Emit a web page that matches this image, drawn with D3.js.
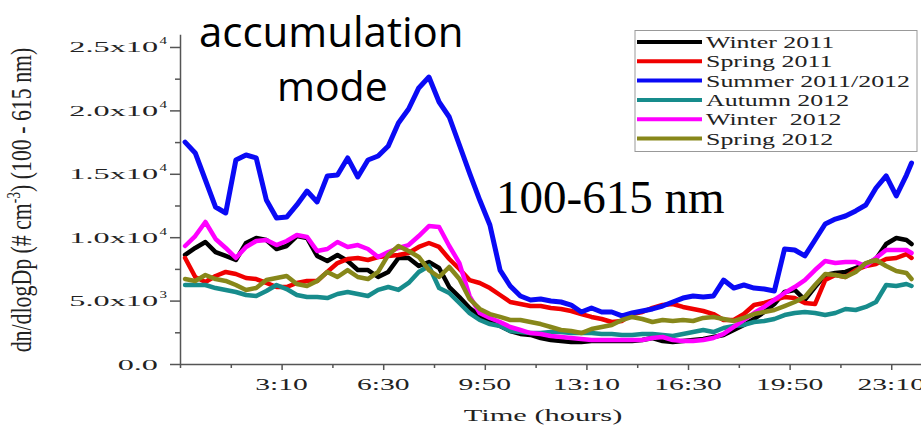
<!DOCTYPE html>
<html><head><meta charset="utf-8">
<script src="https://cdn.jsdelivr.net/npm/d3@7"></script>
<style>body{margin:0;background:#fff}svg{display:block}</style>
</head><body>
<svg id="c" width="921" height="426"></svg>
<script>
// time of day in minutes (20-min readings, last at 23:50)
const times = d3.range(0, 1440, 20).concat([1430]);

const seriesNames = ["Winter 2011", "Spring 2011", "Summer 2011/2012", "Autumn 2012", "Winter  2012", "Spring 2012"];
const seriesColors = ["#000000", "#f00000", "#0a0af5", "#178c8c", "#ff00ff", "#87871a"];

const winter2011 = [8600,9150,9620,8830,8520,8200,9540,9940,9780,9070,
  9305,10090,9940,8520,8120,8600,8120,7410,7410,6860,
  7260,8360,8360,7730,8040,7570,6070,5280,4420,3790,
  3310,3000,2600,2370,2290,2050,1890,1810,1730,1730,
  1810,1810,1810,1810,1810,1890,2050,1810,1730,1810,
  1890,1970,2130,2290,2680,3080,3550,4100,4730,5680,
  5840,5050,6070,7020,7180,7260,7570,7890,8280,9460,
  9940,9780,9460];
const spring2011 = [8360,6860,6470,6940,7260,7100,6780,6700,6390,6070,
  6070,6390,6550,6550,7260,7960,8280,8360,8200,8440,
  8520,8600,8750,9230,9540,9230,8280,7490,6620,6390,
  5990,5440,4890,4730,4570,4570,4420,4340,4180,3940,
  3710,3550,3310,3390,3940,4100,4420,4650,4730,4500,
  4340,4180,3940,3470,3470,3940,4650,4810,5050,5280,
  5200,4810,4730,6620,7020,6860,7410,7730,7890,8280,
  8360,8670,8360];
const summer2011_2012 = [17500,16640,14510,12380,11910,16090,16480,16250,12930,11510,
  11590,12540,13640,12780,14830,14900,16250,14750,16090,16400,
  17190,19010,20110,21770,22630,20660,19480,17270,15060,12930,
  10960,7410,6150,5360,5050,5130,4970,4890,4650,4100,
  4420,4100,4100,3790,4020,4180,4340,4570,4890,5200,
  5360,5280,5360,6620,5990,6230,5990,5910,5760,9070,
  8990,8520,9780,11040,11430,11670,12070,12540,13880,14830,
  13250,14900,15850];
const autumn2012 = [6230,6230,6230,5990,5840,5680,5440,5360,5760,6230,
  5910,5440,5280,5280,5200,5520,5680,5520,5360,5840,
  6070,5840,6390,7260,7730,5990,5600,4810,4020,3470,
  3150,3000,2600,2520,2440,2440,2520,2520,2440,2440,
  2440,2370,2370,2290,2290,2370,2370,2290,2210,2370,
  2520,2680,2520,2840,3000,3080,3310,3390,3550,3860,
  4020,4100,4020,3860,4020,4340,4260,4500,4890,6230,
  6150,6310,6150];
const winter2012 = [9305,10090,11200,9860,9150,8360,9230,9700,9780,9380,
  9700,10170,10020,8910,9070,9620,9230,9380,9070,8440,
  8830,9150,9380,10090,10880,10800,9305,7960,5360,4020,
  3630,3310,2920,2680,2440,2370,2210,2130,2050,1970,
  1890,1890,1890,1890,1890,1890,2050,2130,1890,1810,
  1810,1890,2050,2370,2920,3470,4020,4500,5050,5600,
  6070,6620,7410,8120,7960,8040,8040,7730,8360,8990,
  8990,8990,8750];
const spring2012 = [6700,6550,7020,6700,6550,6230,5840,5990,6620,6780,
  6940,6310,6150,6550,7260,6860,7410,6860,6700,7260,
  8600,9305,8910,8440,7410,6860,7650,6700,5130,4340,
  3940,3710,3470,3470,3310,3150,2920,2680,2600,2440,
  2760,2920,3080,3470,3710,3550,3310,3470,3390,3470,
  3390,3630,3710,3550,3390,3630,3940,4100,4260,4570,
  4890,5280,6230,7100,7020,6860,7260,7960,8200,7730,
  7330,7180,6700];

const yMajor = [0, 5000, 10000, 15000, 20000, 25000];
const yMinor = [2500, 7500, 12500, 17500, 22500];
const yMantissa = ["0.0", "5.0x10", "1.0x10", "1.5x10", "2.0x10", "2.5x10"];
const yExponent = ["", "3", "4", "4", "4", "4"];
const xMajor = [190, 390, 590, 790, 990, 1190, 1390];
const xLabels = ["3:10", "6:30", "9:50", "13:10", "16:30", "19:50", "23:10"];
const xMinor = [-10, 90, 290, 490, 690, 890, 1090, 1290];

const allSeries = [winter2011, spring2011, summer2011_2012, autumn2012, winter2012, spring2012];

const svg = d3.select("#c");
const serif = "'Liberation Serif','Times New Roman',serif";
const x = d3.scaleLinear().domain([-10, 1450]).range([180, 921.7]);
const y = d3.scaleLinear().domain([0, 26000]).range([364, 34.3]);
const axisColor = "#555";

// axes
const gx = svg.append("g").attr("transform", "translate(0,364)");
gx.call(d3.axisBottom(x).tickValues(xMajor).tickSize(6).tickSizeOuter(0).tickFormat(""));
const gxm = svg.append("g").attr("transform", "translate(0,364)");
gxm.call(d3.axisBottom(x).tickValues(xMinor).tickSize(4).tickSizeOuter(0).tickFormat(""));
gxm.select(".domain").remove();
const gy = svg.append("g").attr("transform", "translate(180,0)");
gy.call(d3.axisLeft(y).tickValues(yMajor).tickSize(10).tickSizeOuter(0).tickFormat(""));
const gym = svg.append("g").attr("transform", "translate(180,0)");
gym.call(d3.axisLeft(y).tickValues(yMinor).tickSize(5).tickSizeOuter(0).tickFormat(""));
gym.select(".domain").remove();
svg.selectAll(".domain, .tick line").attr("stroke", axisColor).attr("stroke-width", 1.5);

// y tick labels
yMajor.forEach((v, i) => {
  const yy = y(v) + 5.5;
  svg.append("text").attr("transform", `translate(158,${yy}) scale(2.15,1)`)
    .attr("text-anchor", "end").attr("font-family", serif).attr("font-size", 15)
    .attr("fill", "#222").text(yMantissa[i]);
  if (yExponent[i]) {
    svg.append("text").attr("transform", `translate(159.5,${yy - 8}) scale(1.5,1)`)
      .attr("font-family", serif).attr("font-size", 10).attr("fill", "#222").text(yExponent[i]);
  }
});
// x tick labels
xMajor.forEach((v, i) => {
  svg.append("text").attr("transform", `translate(${x(v)},390) scale(1.85,1)`)
    .attr("text-anchor", "middle").attr("font-family", serif).attr("font-size", 16)
    .attr("fill", "#222").text(xLabels[i]);
});
// axis titles
svg.append("text").attr("transform", "translate(543,421) scale(1.74,1)")
  .attr("text-anchor", "middle").attr("font-family", serif).attr("font-size", 17.5)
  .attr("fill", "#222").text("Time (hours)");
const yt = svg.append("text").attr("transform", "translate(31,200) rotate(-90) scale(1.04,1.4)")
  .attr("text-anchor", "middle").attr("font-family", serif).attr("font-size", 21).attr("fill", "#222");
yt.append("tspan").text("dn/dlogDp (# cm");
yt.append("tspan").attr("font-size", 13).attr("dy", -8).text("-3");
yt.append("tspan").attr("dy", 8).text(") (100 - 615 nm)");

// lines
const line = d3.line().x((d, i) => x(times[i])).y(d => y(d));
allSeries.forEach((s, k) => {
  svg.append("path").datum(s).attr("d", line).attr("fill", "none")
    .attr("stroke", seriesColors[k]).attr("stroke-width", k === 2 ? 5 : 4.5)
    .attr("stroke-linejoin", "round").attr("stroke-linecap", "round");
});

// legend
const lg = svg.append("g");
lg.append("rect").attr("x", 635).attr("y", 30.5).attr("width", 282).attr("height", 121)
  .attr("fill", "#fff").attr("stroke", "#999").attr("stroke-width", 1);
seriesNames.forEach((n, k) => {
  const cy = 42 + k * 19.3;
  lg.append("line").attr("x1", 637).attr("x2", 702).attr("y1", cy).attr("y2", cy)
    .attr("stroke", seriesColors[k]).attr("stroke-width", 4);
  lg.append("text").attr("transform", `translate(706,${cy + 6}) scale(1.48,1)`)
    .attr("font-family", serif).attr("font-size", 17.5).attr("fill", "#222")
    .style("white-space", "pre").text(n);
});

// annotations
svg.append("text").attr("x", 199).attr("y", 47).attr("font-family", "'Open Sans',sans-serif")
  .attr("font-size", 42).attr("fill", "#000").text("accumulation");
svg.append("text").attr("x", 277).attr("y", 101).attr("font-family", "'Open Sans',sans-serif")
  .attr("font-size", 41).attr("fill", "#000").text("mode");
svg.append("text").attr("x", 496).attr("y", 213).attr("font-family", serif)
  .attr("font-size", 47).attr("fill", "#000").text("100-615 nm");
</script>
</body></html>
